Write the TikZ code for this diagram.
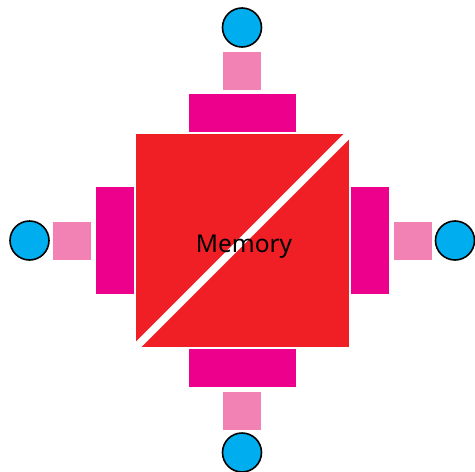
\documentclass[tikz,border=0pt]{standalone}
\usepackage{fontspec}
\setmainfont{Noto Sans}
\usetikzlibrary{calc}
\definecolor{memred}{RGB}{239,31,37}
\definecolor{portmag}{RGB}{236,0,140}
\definecolor{bufpink}{RGB}{242,130,180}
\definecolor{devcyan}{RGB}{0,174,239}

\begin{document}
\begin{tikzpicture}[
  x=1pt,y=-1pt,
  every node/.style={inner sep=0pt,outer sep=0pt},
  mem/.style={fill=memred,minimum width=213pt,minimum height=213pt},
  hport/.style={fill=portmag,minimum width=107pt,minimum height=38pt},
  vport/.style={fill=portmag,minimum width=38pt,minimum height=107pt},
  buf/.style={fill=bufpink,minimum size=38pt},
  dev/.style={circle,draw=black,line width=1.6pt,fill=devcyan,minimum size=39pt}
]
\useasboundingbox (0,0) rectangle (475,472);
\node[mem] (memory) at (242.5,240.5) {};
\draw[white,line width=7.5pt] (memory.south west) -- (memory.north east);
\node[font=\fontsize{24.5}{28}\selectfont] (memlabel) at (244,247) {Memory};
% ports on the four sides
\node[hport] (portN) at (242.5,113) {};
\node[hport] (portS) at (242.5,368) {};
\node[vport] (portW) at (115,240.5) {};
\node[vport] (portE) at (370,240.5) {};
% buffers
\foreach \n/\p in {N/{(242,71)},S/{(242,411)},W/{(72,241)},E/{(413,241)}} {
  \node[buf] (buf\n) at \p {};
}
% devices
\foreach \n/\p in {N/{(242,27.5)},S/{(242,452.5)},W/{(29.5,240.5)},E/{(455,240.5)}} {
  \node[dev] (dev\n) at \p {};
}
\end{tikzpicture}
\end{document}
